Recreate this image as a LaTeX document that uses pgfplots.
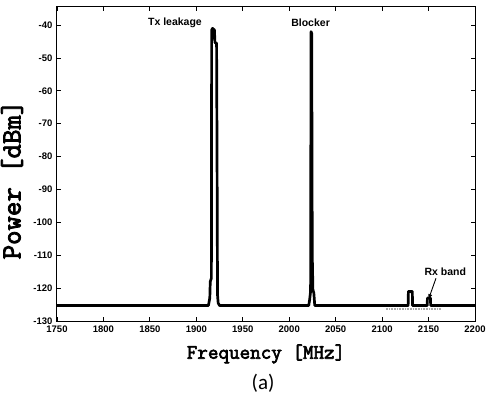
\documentclass[border=0pt]{standalone}
\usepackage{pgfplots}
\pgfplotsset{compat=1.18}
\usepackage{fontspec}
\setmainfont{Liberation Sans}
\newfontfamily\capfont{Carlito}
\newfontfamily\ttb[FakeBold=3]{Latin Modern Mono}
\begin{document}
\begin{tikzpicture}
\useasboundingbox (-57pt,-75pt) rectangle (432pt,321pt);
\begin{axis}[
  at={(0,0)}, anchor=south west,
  scale only axis, width=418pt, height=314pt,
  xmin=1750, xmax=2200, ymin=-130, ymax=-34.5,
  xtick={1750,1800,...,2200}, ytick={-130,-120,...,-40},
  tick align=inside, major tick length=4pt,
  tick style={black, line width=0.8pt},
  axis line style={line width=1pt},
  /pgf/number format/assume math mode=true,
  /pgf/number format/1000 sep={},
  ticklabel style={font=\fontsize{9.5}{10}\selectfont\bfseries},
  xticklabel style={yshift=-1pt},
  yticklabel style={xshift=-1pt},
  xlabel={\ttb\fontsize{20.5}{21}\selectfont Frequency [MHz]},
  xlabel style={at={(axis description cs:0.5,-0.105)}, anchor=center},
  ylabel={\ttb\fontsize{28}{29}\selectfont Power [dBm]},
  ylabel style={at={(axis description cs:-0.1077,0.449)}, anchor=center, rotate=0},
  clip mode=individual,
]
% Rx band (hatched)
\addplot[gray!65, line width=2pt, dash pattern=on 0.9pt off 0.7pt] coordinates {(2104,-126.3) (2163,-126.3)};
\addplot[black, line width=2.7pt, line join=round] coordinates {
(1750,-125.3) (1913,-125.3) (1914.5,-123) (1915,-118) (1916.2,-117)
(1916.5,-41.5) (1917.5,-41) (1919.5,-41.5) (1920,-45.3) (1921.8,-45.5)
(1922.3,-80) (1922.8,-122) (1923.5,-124.5) (1925,-125.3)
(2021,-125.3) (2022,-123.5) (2023,-121) (2023.5,-42) (2024.2,-42.5)
(2024.8,-110) (2025.5,-120.5) (2026.5,-121.5) (2027.5,-125.3)
(2128,-125.3) (2128.3,-121) (2132.5,-121) (2132.8,-125.3)
(2148.5,-125.3) (2148.8,-123) (2152,-123) (2152.3,-125.3)
(2200,-125.3)};
\node[font=\fontsize{10.5}{11}\selectfont\bfseries] at (axis cs:1877,-39.4) {Tx leakage};
\node[font=\fontsize{10.5}{11}\selectfont\bfseries] at (axis cs:2023,-39.4) {Blocker};
\node[font=\fontsize{10.5}{11}\selectfont\bfseries] at (axis cs:2168,-115.1) {Rx band};
\draw[-latex, line width=0.9pt] (axis cs:2158,-117) -- (axis cs:2149.8,-123.5);
\node at (axis description cs:0.493,-0.1975) {\capfont\fontsize{21}{22}\selectfont (a)};
\end{axis}
\end{tikzpicture}
\end{document}
